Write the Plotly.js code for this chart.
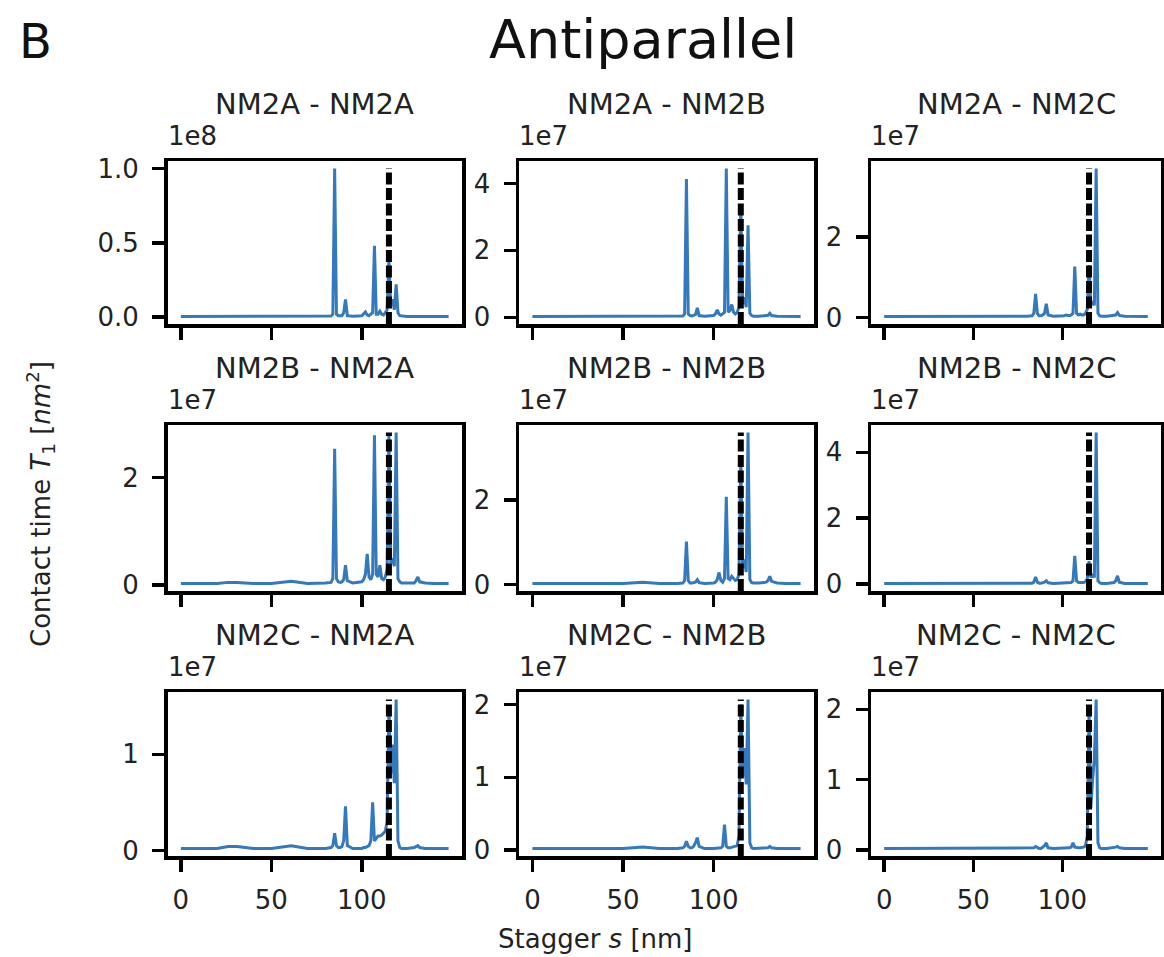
<!DOCTYPE html>
<html>
<head>
<meta charset="utf-8">
<script src="https://cdn.plot.ly/plotly-3.0.1.min.js"></script>
<style>html,body{margin:0;padding:0;background:#fff;}#chart{width:1164px;height:957px;}</style>
</head>
<body>
<div id="chart"></div>
<script>
// ---------------- DATA ----------------
// Stagger s [nm] sample positions (shared by all panels)
const stagger = [0,10,20,26,31,40,50,61,70,80,
  83,84,85,86,87,88,89,90,91,92,95,
  100,101,102,103,104,105,106,107,108,109,110,111,112,113,114,115,116,117,118,119,120,121,122,
  125,129,130,131,132,135,140,148];

// Contact time T1, in units of the panel's offset (1e8 or 1e7)
const T_2A_2A = [0.004,0.004,0.005,0.004,0.004,0.005,0.004,0.005,0.004,0.005,
  0.008,0.02,1.0,0.02,0.01,0.01,0.01,0.03,0.12,0.01,0.006,
  0.01,0.02,0.035,0.015,0.01,0.02,0.03,0.48,0.02,0.02,0.04,0.02,0.015,0.03,0.05,0.37,0.08,0.12,0.05,0.22,0.03,0.01,0.008,
  0.005,0.005,0.006,0.008,0.005,0.004,0.004,0.004];
const T_2A_2B = [0.02,0.02,0.03,0.02,0.02,0.03,0.03,0.02,0.03,0.03,
  0.04,0.1,4.13,0.1,0.05,0.04,0.05,0.08,0.28,0.05,0.03,
  0.05,0.1,0.22,0.1,0.06,0.1,0.15,4.45,0.15,0.2,0.38,0.15,0.1,0.15,0.3,3.35,0.4,0.6,0.3,2.75,0.12,0.05,0.03,
  0.03,0.04,0.06,0.12,0.05,0.03,0.02,0.02];
const T_2A_2C = [0.02,0.02,0.02,0.02,0.02,0.02,0.02,0.02,0.02,0.03,
  0.04,0.1,0.585,0.1,0.04,0.04,0.06,0.1,0.34,0.06,0.03,
  0.03,0.04,0.06,0.05,0.04,0.06,0.1,1.26,0.1,0.06,0.08,0.06,0.06,0.1,0.2,1.3,0.3,0.4,0.3,3.7,0.1,0.04,0.03,
  0.03,0.04,0.06,0.12,0.05,0.03,0.02,0.02];
const T_2B_2A = [0.03,0.03,0.03,0.05,0.05,0.03,0.03,0.07,0.03,0.04,
  0.05,0.12,2.54,0.12,0.06,0.05,0.06,0.1,0.37,0.08,0.04,
  0.06,0.1,0.2,0.58,0.15,0.1,0.2,2.79,0.2,0.15,0.37,0.12,0.1,0.15,0.3,2.8,0.4,0.5,0.35,2.84,0.12,0.06,0.04,
  0.04,0.04,0.08,0.15,0.06,0.04,0.03,0.03];
const T_2B_2B = [0.03,0.03,0.03,0.03,0.03,0.03,0.03,0.06,0.03,0.03,
  0.04,0.1,1.02,0.1,0.04,0.04,0.05,0.06,0.12,0.05,0.03,
  0.04,0.06,0.12,0.29,0.1,0.06,0.15,2.08,0.15,0.12,0.2,0.15,0.1,0.12,0.25,3.0,0.4,0.6,0.3,3.6,0.12,0.05,0.04,
  0.04,0.06,0.1,0.2,0.08,0.04,0.03,0.03];
const T_2B_2C = [0.02,0.02,0.02,0.02,0.02,0.02,0.02,0.04,0.02,0.02,
  0.03,0.06,0.22,0.06,0.03,0.03,0.04,0.06,0.1,0.04,0.02,
  0.03,0.03,0.04,0.04,0.03,0.05,0.1,0.86,0.1,0.05,0.05,0.05,0.05,0.08,0.15,0.7,0.2,0.3,0.2,4.6,0.1,0.04,0.02,
  0.02,0.05,0.1,0.25,0.06,0.02,0.02,0.02];
const T_2C_2A = [0.02,0.02,0.02,0.04,0.04,0.02,0.02,0.05,0.02,0.02,
  0.03,0.05,0.18,0.05,0.03,0.03,0.04,0.1,0.46,0.05,0.02,
  0.02,0.03,0.03,0.04,0.05,0.1,0.5,0.1,0.12,0.15,0.15,0.16,0.18,0.2,0.3,1.5,0.8,1.1,0.7,1.57,0.1,0.03,0.02,
  0.02,0.03,0.04,0.05,0.03,0.02,0.02,0.02];
const T_2C_2B = [0.02,0.02,0.02,0.02,0.02,0.02,0.02,0.04,0.02,0.02,
  0.03,0.05,0.12,0.05,0.03,0.03,0.05,0.1,0.17,0.05,0.02,
  0.02,0.02,0.03,0.03,0.03,0.05,0.35,0.05,0.03,0.03,0.04,0.04,0.05,0.06,0.2,2.0,1.0,1.4,0.9,2.07,0.1,0.03,0.02,
  0.02,0.03,0.03,0.05,0.03,0.02,0.02,0.02];
const T_2C_2C = [0.02,0.02,0.02,0.02,0.02,0.02,0.02,0.02,0.02,0.02,
  0.02,0.03,0.05,0.03,0.02,0.02,0.04,0.06,0.1,0.03,0.02,
  0.02,0.02,0.02,0.03,0.03,0.04,0.1,0.04,0.03,0.03,0.03,0.03,0.04,0.06,0.2,2.0,0.6,1.0,1.3,2.14,0.1,0.03,0.02,
  0.02,0.03,0.04,0.05,0.03,0.02,0.02,0.02];

const panelSeries = [T_2A_2A, T_2A_2B, T_2A_2C, T_2B_2A, T_2B_2B, T_2B_2C, T_2C_2A, T_2C_2B, T_2C_2C];
const panelTitles = ['NM2A - NM2A','NM2A - NM2B','NM2A - NM2C',
                     'NM2B - NM2A','NM2B - NM2B','NM2B - NM2C',
                     'NM2C - NM2A','NM2C - NM2B','NM2C - NM2C'];
const offsetLabels = ['1e8','1e7','1e7','1e7','1e7','1e7','1e7','1e7','1e7'];
const refStagger = 115;   // dashed reference line
const xTickVals = [0, 50, 100];
const xTickText = ['0', '50', '100'];
const yTickVals = [[0,0.5,1.0],[0,2,4],[0,2],[0,2],[0,2],[0,2,4],[0,1],[0,1,2],[0,1,2]];
const yTickText = [['0.0','0.5','1.0'],['0','2','4'],['0','2'],['0','2'],['0','2'],['0','2','4'],['0','1'],['0','1','2'],['0','1','2']];

// ---------------- LAYOUT ----------------
const W = 1164, H = 957;
const colPx = [[167.5,462],[519,814],[871,1161]];
const rowPx = [[161,324],[425,591],[692,856]];
const FONT = 'DejaVu Sans, Liberation Sans, sans-serif';
const BLUE = '#3479bb';

const xMin = Math.min(...stagger), xMax = Math.max(...stagger);
const xPad = 0.05*(xMax - xMin);
const xRange = [xMin - xPad, xMax + xPad];

const traces = [];
const layout = {
  width: W, height: H,
  margin: {l:0, r:0, t:0, b:0},
  paper_bgcolor: '#fff', plot_bgcolor: '#fff',
  showlegend: false,
  font: {family: FONT, color: '#222'},
  annotations: []
};

panelSeries.forEach((ser, i) => {
  const r = Math.floor(i/3), c = i%3;
  const sfx = i === 0 ? '' : String(i+1);
  const xa = 'x'+sfx, ya = 'y'+sfx;
  const lo = Math.min(...ser), hi = Math.max(...ser);
  const pad = 0.05*(hi - lo);
  const yRange = [lo - pad, hi + pad];

  traces.push({x: stagger, y: ser, xaxis: xa, yaxis: ya, type: 'scatter', mode: 'lines',
    line: {color: BLUE, width: 3}, hoverinfo: 'x+y'});
  traces.push({x: [refStagger, refStagger], y: [yRange[0], hi], xaxis: xa, yaxis: ya,
    type: 'scatter', mode: 'lines', line: {color: '#000', width: 6, dash: '12px,3.5px'}, hoverinfo: 'skip'});

  const common = {showline: true, mirror: true, linecolor: '#000', linewidth: 3.5,
    ticks: 'outside', ticklen: 12, tickwidth: 3.5, tickcolor: '#000',
    showgrid: false, zeroline: false, tickfont: {family: FONT, size: 26, color: '#222'}};

  layout['xaxis'+sfx] = Object.assign({}, common, {
    domain: [colPx[c][0]/W, colPx[c][1]/W], anchor: ya, range: xRange,
    tickmode: 'array', tickvals: xTickVals, ticktext: xTickText,
    showticklabels: r === 2, ticklabelstandoff: 6});
  layout['yaxis'+sfx] = Object.assign({}, common, {
    domain: [1 - rowPx[r][1]/H, 1 - rowPx[r][0]/H], anchor: xa, range: yRange,
    tickmode: 'array', tickvals: yTickVals[i], ticktext: yTickText[i], ticklabelstandoff: 8});

  const cx = (colPx[c][0] + colPx[c][1]) / 2;
  layout.annotations.push({text: panelTitles[i], xref: 'paper', yref: 'paper',
    x: cx/W, y: 1 - (rowPx[r][0] - 57)/H, xanchor: 'center', yanchor: 'middle',
    showarrow: false, font: {family: FONT, size: 29, color: '#222'}});
  layout.annotations.push({text: offsetLabels[i], xref: 'paper', yref: 'paper',
    x: (colPx[c][0] - 2)/W, y: 1 - (rowPx[r][0] - 25)/H, xanchor: 'left', yanchor: 'middle',
    showarrow: false, font: {family: FONT, size: 26, color: '#222'}});
});

layout.annotations.push({text: 'B', xref: 'paper', yref: 'paper', x: 35/W, y: 1 - 41/H,
  xanchor: 'center', yanchor: 'middle', showarrow: false, font: {family: FONT, size: 48, color: '#111'}});
layout.annotations.push({text: 'Antiparallel', xref: 'paper', yref: 'paper', x: 643/W, y: 1 - 40/H,
  xanchor: 'center', yanchor: 'middle', showarrow: false, font: {family: FONT, size: 54, color: '#111'}});
layout.annotations.push({text: 'Stagger <i>s</i> [nm]', xref: 'paper', yref: 'paper', x: 595/W, y: 1 - 939/H,
  xanchor: 'center', yanchor: 'middle', showarrow: false, font: {family: FONT, size: 26, color: '#222'}});
layout.annotations.push({text: 'Contact time <i>T</i><sub>1</sub> [<i>nm</i><sup>2</sup>]', xref: 'paper', yref: 'paper',
  x: 40/W, y: 1 - 504/H, xanchor: 'center', yanchor: 'middle', textangle: -90,
  showarrow: false, font: {family: FONT, size: 26, color: '#222'}});

Plotly.newPlot('chart', traces, layout, {staticPlot: true, displayModeBar: false});
</script>
</body>
</html>
